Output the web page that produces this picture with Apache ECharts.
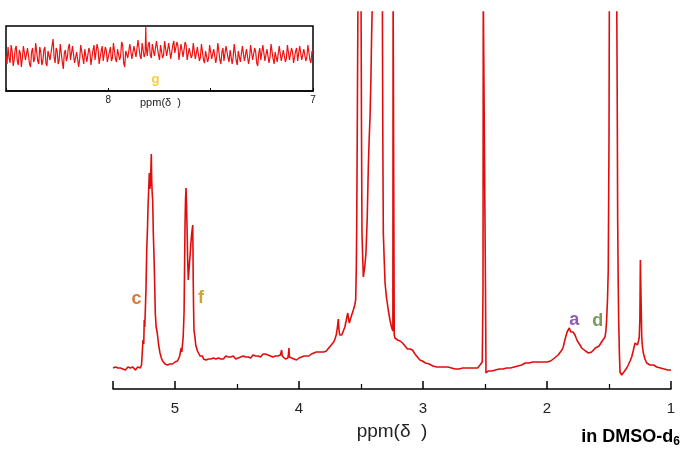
<!DOCTYPE html>
<html><head><meta charset="utf-8">
<script src="https://cdn.jsdelivr.net/npm/echarts@6/dist/echarts.min.js"></script>
<style>html,body{margin:0;padding:0;background:#fff}#c{width:684px;height:449px}</style>
</head><body><div id="c"></div>
<script>
// main 1H NMR spectrum: [ppm, intensity]
var spectrum = [
[5.50,21],[5.49,20],[5.48,22],[5.47,20],[5.46,21],[5.45,19],[5.44,21],[5.43,22],[5.42,20],[5.41,21],[5.40,19],[5.39,21],[5.38,22],[5.37,20],[5.36,21],[5.35,20],[5.34,22],[5.33,21],[5.32,19],[5.31,21],[5.30,22],[5.29,20],[5.28,21],
[5.270,24],[5.264,36],[5.258,49],[5.252,45],[5.248,69],[5.244,62],[5.240,76],[5.234,100],[5.228,139],[5.222,160],[5.218,180],[5.212,200],[5.207,216],[5.203,200],[5.198,205],[5.194,222],[5.191,235],[5.188,210],[5.185,199],[5.182,192],[5.180,189],[5.177,170],[5.175,156],[5.171,140],[5.167,122],[5.163,100],[5.159,76],[5.152,62],[5.143,56],[5.132,44],[5.121,36],[5.110,31],[5.100,28],[5.09,27],[5.08,25],[5.07,27],[5.06,24],[5.05,26],[5.04,25],[5.03,27],[5.02,25],[5.01,26],[5.00,27],[4.99,26],[4.98,28],[4.97,29],[4.962,33],[4.955,38],[4.950,41],[4.945,37],[4.941,36],[4.934,52],[4.927,76],[4.923,120],[4.919,166],[4.915,190],[4.911,201],[4.907,185],[4.903,162],[4.898,130],[4.893,109],[4.887,119],[4.882,128],[4.877,136],[4.871,147],[4.865,156],[4.860,161],[4.857,164],[4.855,140],[4.853,109],[4.850,80],[4.847,59],[4.843,55],[4.839,52],[4.833,44],[4.826,46],[4.819,38],[4.812,36],[4.805,39],[4.798,33],[4.792,34],[4.785,31],[4.778,33],[4.77,30],[4.76,31],[4.75,29],[4.74,31],[4.73,30],[4.72,28],[4.71,30],[4.70,29],[4.69,31],[4.68,29],
[4.67,30],[4.66,28],[4.65,31],[4.64,29],[4.63,30],[4.62,32],[4.61,30],[4.60,31],[4.59,33],[4.58,31],[4.57,32],[4.56,30],[4.55,32],[4.54,31],[4.53,33],[4.52,31],[4.51,30],[4.50,32],[4.49,31],[4.48,30],[4.47,32],[4.46,31],[4.45,33],[4.44,31],[4.43,32],[4.42,30],[4.41,32],[4.40,33],[4.39,31],[4.38,32],[4.37,34],[4.36,32],[4.35,33],[4.34,31],[4.33,33],[4.32,34],[4.31,32],[4.30,34],[4.29,35],[4.28,33],[4.27,35],[4.26,36],[4.25,34],[4.24,35],[4.23,33],[4.22,34],[4.21,32],[4.20,34],[4.19,33],[4.18,31],[4.17,33],[4.16,32],[4.15,34],[4.14,39],[4.135,33],[4.13,31],[4.12,33],[4.11,30],[4.10,32],[4.09,31],[4.085,35],[4.081,41],[4.077,32],[4.07,30],[4.06,31],[4.05,29],[4.04,30],[4.03,28],[4.02,29],[4.01,30],[4.00,31],[3.99,30],[3.98,32],[3.97,31],[3.96,33],[3.95,32],[3.94,33],[3.93,34],[3.92,33],[3.91,34],[3.90,35],[3.89,34],[3.88,36],[3.87,35],[3.86,37],[3.85,36],[3.84,37],[3.83,36],[3.82,37],[3.81,38],[3.80,37],[3.79,38],[3.78,38],[3.77,39],[3.76,41],[3.75,43],[3.74,44],[3.73,45],[3.72,47],[3.71,50],[3.70,54],[3.696,57],[3.69,62],[3.683,70],[3.678,60],[3.672,54],[3.664,52],[3.655,54],[3.643,56],[3.63,62],[3.62,68],[3.607,76],[3.60,70],[3.594,66],[3.585,70],[3.575,74],[3.562,79],[3.55,84],[3.543,89],[3.538,120],[3.535,156],[3.53,260],[3.524,400],[3.50,400],[3.496,260],[3.492,156],[3.486,130],[3.481,112],[3.47,122],[3.460,136],[3.45,170],[3.441,222],[3.434,250],[3.427,272],[3.42,310],[3.414,356],[3.406,400],[3.328,400],[3.324,250],[3.320,156],[3.313,130],[3.306,106],[3.295,92],[3.280,79],[3.265,68],[3.252,61],[3.243,58],[3.241,400],[3.236,400],[3.232,54],[3.226,51],[3.215,50],[3.205,49],[3.195,47],[3.185,48],[3.175,46],[3.165,46],[3.155,44],[3.145,43],[3.135,41],[3.125,40],[3.115,41],[3.105,40],[3.095,41],[3.085,39],[3.075,38],[3.065,35],[3.055,33],[3.045,32],[3.035,30],[3.025,29],[3.015,28],[3.005,28],[2.995,27],[2.98,26],[2.965,25],[2.95,25],[2.935,24],[2.92,23],[2.905,24],[2.89,22],[2.875,23],[2.86,22],[2.845,21],[2.83,22],[2.815,21],[2.80,22],[2.785,20],[2.77,21],[2.755,22],[2.74,20],[2.725,21],[2.71,20],[2.695,22],[2.68,21],[2.665,20],[2.65,21],[2.635,22],[2.62,21],[2.605,20],[2.59,21],[2.575,22],[2.56,21],[2.55,23],[2.54,24],[2.53,25],[2.522,27],[2.516,100],[2.514,400],[2.500,400],[2.496,100],[2.492,16],[2.485,17],[2.475,18],[2.46,19],[2.445,18],[2.43,20],[2.415,19],[2.40,21],[2.385,20],[2.37,21],[2.355,20],[2.34,22],[2.325,21],[2.31,22],[2.295,21],[2.28,23],[2.265,22],[2.25,21],[2.235,23],[2.22,22],[2.205,24],[2.19,25],[2.175,26],[2.16,25],[2.145,26],[2.13,25],[2.115,27],[2.10,26],[2.085,27],[2.07,26],[2.055,27],[2.04,26],[2.03,27],[2.015,28],[2.00,27],[1.985,29],[1.97,28],[1.955,30],[1.94,31],[1.925,32],[1.91,34],[1.895,36],[1.88,39],[1.869,42],[1.858,48],[1.847,53],[1.838,57],[1.828,59],[1.82,61],[1.815,59],[1.808,57],[1.801,56],[1.79,57],[1.78,55],[1.774,54],[1.765,51],[1.755,48],[1.745,46],[1.734,44],[1.72,41],[1.705,39],[1.69,38],[1.68,37],[1.665,36],[1.65,38],[1.64,37],[1.625,39],[1.61,41],[1.595,42],[1.58,43],[1.573,44],[1.56,47],[1.545,49],[1.532,52],[1.525,58],[1.519,69],[1.512,90],[1.506,119],[1.500,250],[1.497,400],[1.438,400],[1.434,300],[1.430,169],[1.426,110],[1.422,69],[1.416,35],[1.411,17],[1.404,15],[1.398,14],[1.39,16],[1.38,17],[1.37,19],[1.357,21],[1.345,24],[1.33,28],[1.317,32],[1.305,38],[1.29,46],[1.28,45],[1.271,44],[1.262,48],[1.256,52],[1.251,70],[1.247,129],[1.244,129],[1.240,80],[1.236,52],[1.23,42],[1.223,36],[1.21,30],[1.196,26],[1.185,25],[1.17,24],[1.155,23],[1.14,24],[1.125,22],[1.115,22],[1.10,23],[1.085,21],[1.07,22],[1.055,20],[1.04,21],[1.025,19],[1.01,20],[1.00,19]
];
// inset (aromatic region) noise trace: [ppm, intensity]
var insetTrace = [
[8.500,35],[8.495,27],[8.490,44],[8.485,33],[8.480,28],[8.475,46],[8.470,40],[8.465,25],[8.460,31],[8.455,42],[8.450,45],[8.445,30],[8.440,26],[8.435,41],[8.430,38],[8.425,24],[8.420,33],[8.415,45],[8.410,47],[8.405,31],[8.400,29],[8.395,43],[8.390,41],[8.385,27],[8.380,24],[8.375,39],[8.370,43],[8.365,29],[8.360,32],[8.355,48],[8.350,46],[8.345,30],[8.340,27],[8.335,44],[8.330,39],[8.325,26],[8.320,30],[8.315,41],[8.310,44],[8.305,28],[8.300,25],[8.295,40],[8.290,42],[8.285,31],[8.280,33],[8.275,45],[8.270,52],[8.265,34],[8.260,28],[8.255,43],[8.250,40],[8.245,27],[8.240,31],[8.235,47],[8.230,45],[8.225,29],[8.220,22],[8.215,38],[8.210,41],[8.205,30],[8.200,34],[8.195,44],[8.190,47],[8.185,31],[8.180,29],[8.175,45],[8.170,43],[8.165,28],[8.160,26],[8.155,39],[8.150,40],[8.145,24],[8.140,32],[8.135,46],[8.130,48],[8.125,33],[8.120,27],[8.115,42],[8.110,44],[8.105,29],[8.100,30],[8.095,43],[8.090,39],[8.085,26],[8.080,25],[8.075,41],[8.070,46],[8.065,31],[8.060,33],[8.055,47],[8.050,42],[8.045,27],[8.040,28],[8.035,40],[8.030,45],[8.025,30],[8.020,31],[8.015,44],[8.010,41],[8.005,29],[8.000,27],
[7.995,39],[7.990,44],[7.985,30],[7.980,33],[7.975,48],[7.970,47],[7.965,32],[7.960,29],[7.955,42],[7.950,43],[7.945,31],[7.940,35],[7.935,49],[7.930,46],[7.925,28],[7.920,24],[7.915,40],[7.910,42],[7.905,33],[7.900,34],[7.895,47],[7.890,48],[7.885,32],[7.880,30],[7.875,45],[7.870,44],[7.865,34],[7.860,36],[7.855,51],[7.850,50],[7.845,35],[7.840,32],[7.835,48],[7.830,47],[7.825,34],[7.820,38],[7.817,64],[7.815,45],[7.810,35],[7.805,46],[7.800,49],[7.795,36],[7.790,33],[7.785,47],[7.780,46],[7.775,35],[7.770,37],[7.765,50],[7.760,51],[7.755,36],[7.750,31],[7.745,46],[7.740,45],[7.735,33],[7.730,36],[7.725,50],[7.720,49],[7.715,35],[7.710,34],[7.705,48],[7.700,47],[7.695,32],[7.690,30],[7.685,46],[7.680,50],[7.675,38],[7.670,37],[7.665,49],[7.660,45],[7.655,31],[7.650,32],[7.645,47],[7.640,48],[7.635,34],[7.630,35],[7.625,49],[7.620,46],[7.615,31],[7.610,29],[7.605,43],[7.600,44],[7.595,33],[7.590,36],[7.585,48],[7.580,47],[7.575,32],[7.570,31],[7.565,44],[7.560,43],[7.555,30],[7.550,34],[7.545,47],[7.540,46],[7.535,31],[7.530,28],[7.525,40],[7.520,42],[7.515,29],[7.510,33],[7.505,46],[7.500,45],
[7.495,32],[7.490,30],[7.485,42],[7.480,41],[7.475,28],[7.470,35],[7.465,48],[7.460,47],[7.455,31],[7.450,27],[7.445,39],[7.440,43],[7.435,30],[7.430,32],[7.425,45],[7.420,44],[7.415,33],[7.410,29],[7.405,41],[7.400,40],[7.395,27],[7.390,34],[7.385,47],[7.380,46],[7.375,30],[7.370,26],[7.365,40],[7.360,42],[7.355,29],[7.350,31],[7.345,45],[7.340,44],[7.335,30],[7.330,28],[7.325,42],[7.320,41],[7.315,27],[7.310,33],[7.305,46],[7.300,45],[7.295,31],[7.290,30],[7.285,43],[7.280,39],[7.275,28],[7.270,25],[7.265,38],[7.260,43],[7.255,31],[7.250,32],[7.245,46],[7.240,45],[7.235,30],[7.230,29],[7.225,42],[7.220,41],[7.215,28],[7.210,34],[7.205,47],[7.200,46],[7.195,32],[7.190,27],[7.185,39],[7.180,40],[7.175,29],[7.170,31],[7.165,45],[7.160,44],[7.155,30],[7.150,28],[7.145,41],[7.140,42],[7.135,29],[7.130,33],[7.125,46],[7.120,45],[7.115,31],[7.110,30],[7.105,43],[7.100,39],[7.095,28],[7.090,26],[7.085,40],[7.080,43],[7.075,30],[7.070,32],[7.065,45],[7.060,44],[7.055,31],[7.050,29],[7.045,42],[7.040,41],[7.035,30],[7.030,34],[7.025,46],[7.020,45],[7.015,31],[7.010,28],[7.005,40],[7.000,38]
];
var mainTicks = [1, 2, 3, 4, 5];
var insetTicks = [7, 8];
var peakLabels = [
  {name: 'c', ppm: 5.31, value: 90, color: '#c55a11'},
  {name: 'f', ppm: 4.79, value: 91, color: '#bf9000'},
  {name: 'a', ppm: 1.78, value: 69, color: '#7030a0'},
  {name: 'd', ppm: 1.59, value: 68, color: '#548235'}
];
var insetLabel = {name: 'g', ppm: 7.77, value: 12, color: '#f5c000'};
var axisTitle = 'ppm(δ  )';

var chart = echarts.init(document.getElementById('c'), null, {renderer: 'canvas'});
var FONT = 'Liberation Sans, Arial, sans-serif';
chart.setOption({
  animation: false,
  backgroundColor: '#fff',
  grid: [
    {left: 113, right: 13, top: 12, bottom: 60},
    {left: 6, right: 371, top: 26, bottom: 358, show: true, borderColor: '#000', borderWidth: 1.5, backgroundColor: 'transparent'}
  ],
  xAxis: [
    {type: 'value', gridIndex: 0, min: 1, max: 5.5, interval: 1, inverse: true,
     axisLine: {show: true, onZero: false, lineStyle: {color: '#000', width: 1.5}},
     axisTick: {show: true, inside: true, length: 8, lineStyle: {color: '#000', width: 1.5}},
     minorTick: {show: true, splitNumber: 2, length: 5, lineStyle: {color: '#000', width: 1.2}},
     splitLine: {show: false},
     axisLabel: {margin: 12, fontSize: 15, color: '#222', fontFamily: FONT,
       formatter: function (v) { return mainTicks.indexOf(v) >= 0 ? String(v) : ''; }},
     name: axisTitle, nameLocation: 'middle', nameGap: 33,
     nameTextStyle: {fontSize: 19, color: '#222', fontFamily: FONT}},
    {type: 'value', gridIndex: 1, min: 7, max: 8.5, interval: 0.5, inverse: true,
     axisLine: {show: true, onZero: false, lineStyle: {color: '#000', width: 1.5}},
     axisTick: {show: true, inside: true, length: 3, lineStyle: {color: '#000', width: 1}},
     splitLine: {show: false},
     axisLabel: {margin: 4, fontSize: 10, color: '#222', fontFamily: FONT,
       formatter: function (v) { return insetTicks.indexOf(v) >= 0 ? String(v) : ''; }}}
  ],
  yAxis: [
    {type: 'value', gridIndex: 0, min: 0, max: 377, show: false, splitLine: {show: false}},
    {type: 'value', gridIndex: 1, min: 0, max: 65, show: false, splitLine: {show: false}}
  ],
  series: [
    {type: 'line', xAxisIndex: 0, yAxisIndex: 0, data: spectrum, showSymbol: false, clip: true,
     lineStyle: {color: '#e00d0d', width: 1.6}, z: 2},
    {type: 'line', xAxisIndex: 1, yAxisIndex: 1, data: insetTrace, showSymbol: false, clip: true,
     lineStyle: {color: '#ee1111', width: 1.2}, z: 2},
    {type: 'scatter', xAxisIndex: 0, yAxisIndex: 0, symbolSize: 0, z: 5,
     data: peakLabels.map(function (p) {
       return {value: [p.ppm, p.value], label: {show: true, position: 'inside', formatter: p.name,
         color: p.color, fontSize: 18, fontWeight: 'bold', fontFamily: FONT}};
     })},
    {type: 'scatter', xAxisIndex: 1, yAxisIndex: 1, symbolSize: 0, z: 5,
     data: [{value: [insetLabel.ppm, insetLabel.value], label: {show: true, position: 'inside',
       formatter: insetLabel.name, color: insetLabel.color, fontSize: 13, fontWeight: 'bold', fontFamily: FONT}}]}
  ],
  graphic: [
    {type: 'text', left: 140, top: 97, style: {
      text: axisTitle, fill: '#222', fontSize: 11, fontFamily: FONT}},
    {type: 'text', right: 4, top: 428, style: {
      text: '{m|in DMSO-d}{s|6}', fill: '#000',
      rich: {m: {fontSize: 18, fontWeight: 'bold', fontFamily: FONT, fill: '#000'},
             s: {fontSize: 12, fontWeight: 'bold', fontFamily: FONT, fill: '#000', padding: [9, 0, 0, 0]}}
    }}
  ]
});
</script></body></html>
